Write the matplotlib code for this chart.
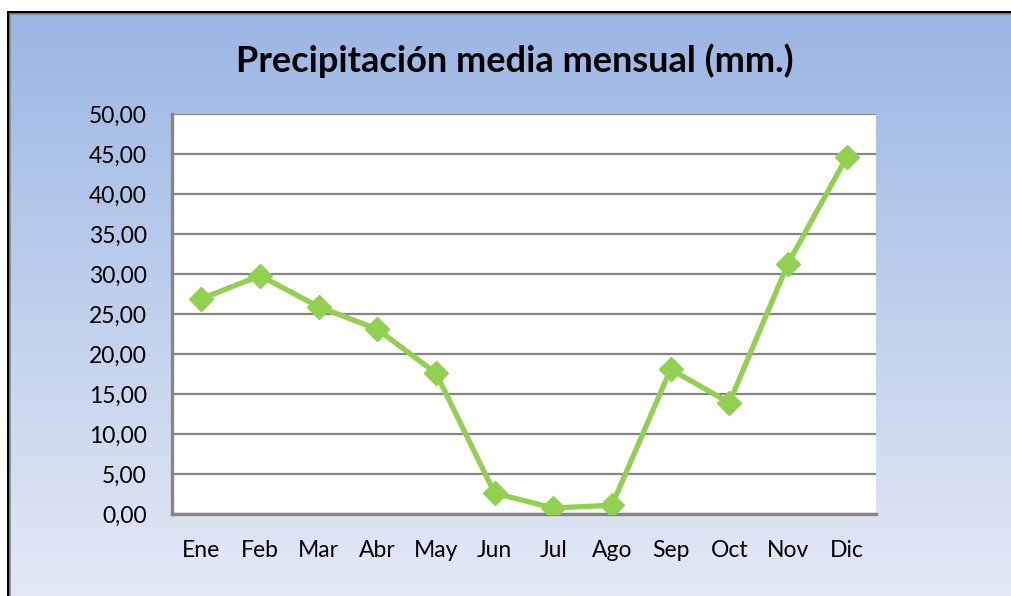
import numpy as np
import matplotlib.pyplot as plt
from matplotlib.colors import LinearSegmentedColormap
from matplotlib.patches import Rectangle

meses = ['Ene', 'Feb', 'Mar', 'Abr', 'May', 'Jun', 'Jul', 'Ago', 'Sep', 'Oct', 'Nov', 'Dic']
precip = [26.9, 29.8, 25.9, 23.1, 17.6, 2.6, 0.75, 1.1, 18.1, 13.9, 31.3, 44.6]
yticks = np.arange(0, 51, 5)

plt.rcParams['font.family'] = ['Lato', 'DejaVu Sans']

W, H = 1011, 596
fig = plt.figure(figsize=(W / 100, H / 100), dpi=100)

# fondo con degradado dentro del marco
bg = fig.add_axes([8 / W, 0, 1 - 8 / W, 1 - 12 / H])
bg.set_axis_off()
cmap = LinearSegmentedColormap.from_list('fondo', ['#9bb6e3', '#e4e9f5'])
bg.imshow(np.linspace(0, 1, 256).reshape(-1, 1), aspect='auto', cmap=cmap,
          extent=[0, 1, 0, 1], origin='upper')

# marco del gráfico
fig.patches.append(Rectangle((7.5 / W, -0.1), 1.2, 1 - 11.5 / H + 0.1, transform=fig.transFigure,
                             fill=False, edgecolor='black', linewidth=2.2, zorder=5))
fig.patches.append(Rectangle((10 / W, -0.1), 1.2, 1 - 14 / H + 0.1, transform=fig.transFigure,
                             fill=False, edgecolor='#8c8c8c', linewidth=1.2, zorder=5))

ax = fig.add_axes([172 / W, 82 / H, 704 / W, 400 / H])
ax.set_facecolor('white')
x = np.arange(len(meses))
ax.plot(x, precip, color='#92d050', linewidth=3.8, marker='D', markersize=12.5, zorder=3)

ax.set_xlim(-0.5, len(meses) - 0.5)
ax.set_ylim(0, 50)
ax.set_yticks(yticks)
ax.set_yticklabels([f'{v:.2f}'.replace('.', ',') for v in yticks], fontsize=16.5)
ax.set_xticks(x)
ax.set_xticklabels(meses, fontsize=16.5)
ax.tick_params(axis='y', length=0, pad=18)
ax.tick_params(axis='x', length=0, pad=19)
ax.yaxis.grid(True, color='#868686', linewidth=1.6)
ax.set_axisbelow(True)
for s in ['top', 'right']:
    ax.spines[s].set_visible(False)
for s in ['left', 'bottom']:
    ax.spines[s].set_color('#868686')
    ax.spines[s].set_linewidth(2.4)

fig.text(515 / W, 1 - 61 / H, 'Precipitación media mensual (mm.)', ha='center', va='center',
         fontsize=26, fontweight='bold')

fig.savefig('out.png', dpi=100)
